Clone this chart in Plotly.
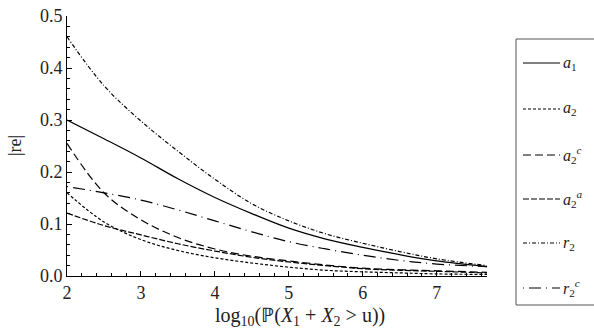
import plotly.graph_objects as go

x = [2.0, 2.5, 3.0, 3.5, 4.0, 4.5, 5.0, 5.5, 6.0, 6.5, 7.0, 7.68]
a1 = [0.300, 0.264, 0.227, 0.187, 0.151, 0.120, 0.092, 0.071, 0.055, 0.041, 0.029, 0.018]
a2 = [0.160, 0.104, 0.070, 0.049, 0.035, 0.025, 0.017, 0.011, 0.008, 0.006, 0.004, 0.003]
a2c = [0.255, 0.160, 0.108, 0.074, 0.052, 0.038, 0.029, 0.021, 0.015, 0.012, 0.010, 0.007]
a2a = [0.121, 0.097, 0.079, 0.062, 0.048, 0.036, 0.027, 0.020, 0.014, 0.011, 0.009, 0.006]
r2 = [0.460, 0.366, 0.298, 0.240, 0.186, 0.139, 0.106, 0.081, 0.063, 0.047, 0.033, 0.020]
r2c = [0.172, 0.160, 0.146, 0.127, 0.106, 0.085, 0.066, 0.052, 0.040, 0.030, 0.023, 0.018]

names = ["<i>a</i><sub>1</sub>", "<i>a</i><sub>2</sub>",
         "<i>a</i><sub>2</sub><sup><i>c</i></sup>", "<i>a</i><sub>2</sub><sup><i>a</i></sup>",
         "<i>r</i><sub>2</sub>", "<i>r</i><sub>2</sub><sup><i>c</i></sup>"]
values = [a1, a2, a2c, a2a, r2, r2c]
dashes = ["solid", "3px,2px", "8px,4px", "6px,2px", "4px,2px,1px,2px", "1px,5px,12px,5px"]

x_title = "log<sub>10</sub>(ℙ(<i>X</i><sub>1</sub> + <i>X</i><sub>2</sub> > u))"
y_title = "|re|"

W, H = 594, 331
L, R, T, B = 67, 107, 16, 55
PW, PH = W - L - R, H - T - B

def px_x(p):
    return (p - L) / PW

def px_y(p):
    return (H - B - p) / PH

fig = go.Figure()
for name, ys, dash in zip(names, values, dashes):
    fig.add_trace(go.Scatter(
        x=x, y=ys, mode="lines", name=name, showlegend=False,
        line=dict(color="black", width=1.2, dash=dash, shape="spline"),
    ))

serif = "Liberation Serif, Times New Roman, serif"
font = dict(family=serif, size=18, color="#222")

# manual legend box
shapes = [dict(type="rect", xref="paper", yref="paper",
               x0=px_x(516), x1=px_x(720), y0=px_y(305), y1=px_y(39),
               line=dict(color="#555", width=1), fillcolor="white", layer="above")]
annotations = []
leg_y = [63, 109, 155, 199, 243, 288]
for name, dash, py in zip(names, dashes, leg_y):
    shapes.append(dict(type="line", xref="paper", yref="paper",
                       x0=px_x(523), x1=px_x(560), y0=px_y(py), y1=px_y(py),
                       line=dict(color="black", width=1.2, dash=dash), layer="above"))
    annotations.append(dict(xref="paper", yref="paper", x=px_x(562), y=px_y(py),
                            xanchor="left", yanchor="middle", text=name, showarrow=False,
                            borderpad=0, font=dict(family=serif, size=16, color="#222")))

# axis titles
annotations.append(dict(xref="paper", yref="paper", x=px_x(300), y=px_y(316),
                        xanchor="center", yanchor="middle", text=x_title, showarrow=False,
                        borderpad=0, font=dict(family=serif, size=20, color="#222")))
annotations.append(dict(xref="paper", yref="paper", x=px_x(15), y=px_y(146),
                        xanchor="center", yanchor="middle", text=y_title, showarrow=False,
                        textangle=-90, borderpad=0, font=dict(family=serif, size=18, color="#222")))

fig.update_layout(
    width=W, height=H,
    margin=dict(l=L, r=R, t=T, b=B, autoexpand=False),
    paper_bgcolor="white", plot_bgcolor="white",
    font=font, showlegend=False,
    shapes=shapes, annotations=annotations,
    xaxis=dict(
        range=[2, 7.68], showgrid=False, zeroline=False, automargin=False,
        showline=True, linecolor="black", linewidth=1,
        ticks="inside", ticklen=5, tickcolor="black",
        tickvals=[2, 3, 4, 5, 6, 7], tickfont=font,
        minor=dict(ticks="inside", ticklen=3, dtick=0.2, tickcolor="black", showgrid=False),
    ),
    yaxis=dict(
        range=[0, 0.5], showgrid=False, zeroline=False, automargin=False,
        showline=True, linecolor="black", linewidth=1,
        ticks="inside", ticklen=5, tickcolor="black",
        tickvals=[0, 0.1, 0.2, 0.3, 0.4, 0.5], tickformat=".1f", tickfont=font,
        minor=dict(ticks="inside", ticklen=3, dtick=0.02, tickcolor="black", showgrid=False),
    ),
)

fig.write_html("out.html", config={"displayModeBar": False},
               post_script="document.body.style.margin='0';document.body.style.padding='0';")
